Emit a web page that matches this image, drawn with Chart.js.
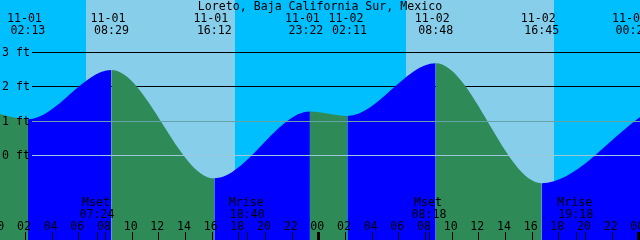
<!DOCTYPE html>
<html>
<head>
<meta charset="utf-8">
<script src="https://cdn.jsdelivr.net/npm/chart.js@4/dist/chart.umd.min.js"></script>
<style>
  html, body { margin: 0; padding: 0; background: #fff; }
  canvas { display: block; }
</style>
</head>
<body>
<canvas id="tide-chart" width="640" height="240"></canvas>
<script>
const title = 'Loreto, Baja California Sur, Mexico';

// high / low tides (first and last ones fall just outside the window)
const tideTimes = ['10-31 23:00', '11-01 02:13', '11-01 08:29', '11-01 16:12', '11-01 23:22',
                   '11-02 02:11', '11-02 08:48', '11-02 16:45', '11-03 00:25'];
const tideHeights = [1.30, 1.04, 2.47, -0.68, 1.26, 1.13, 2.66, -0.82, 1.18];

const sunrises = ['11-01 06:35', '11-02 06:35'];
const sunsets = ['11-01 17:45', '11-02 17:41'];

const moonKinds = ['Mset', 'Mrise', 'Mset', 'Mrise'];
const moonTimes = ['11-01 07:24', '11-01 18:40', '11-02 08:18', '11-02 19:18'];

const depthLevels = [0, 1, 2, 3];
const depthLabels = ['0 ft', '1 ft', '2 ft', '3 ft'];
const hourTicks = [0, 2, 4, 6, 8, 10, 12, 14, 16, 18, 20, 22, 24, 26, 28, 30, 32, 34, 36, 38, 40, 42, 44, 46, 48];

const dayIndex = {'10-31': -1, '11-01': 0, '11-02': 1, '11-03': 2};
const toHours = s => {
  const [d, t] = s.split(' ');
  const [h, m] = t.split(':').map(Number);
  return dayIndex[d] * 24 + h + m / 60;
};

const FLOOD = '#0000ff';
const EBB = '#2e8b57';
const DAY = '#87ceeb';
const NIGHT = '#00bfff';
const FONT = '11.6px "DejaVu Sans Mono", monospace';

const points = tideTimes.map((t, i) => ({x: toHours(t), y: tideHeights[i]}));

const decor = {
  id: 'decor',
  beforeDatasetsDraw(chart) {
    const {ctx, chartArea: a, scales: {x, y}} = chart;
    ctx.save();
    ctx.fillStyle = NIGHT;
    ctx.fillRect(a.left, a.top, a.right - a.left, a.bottom - a.top);
    ctx.fillStyle = DAY;
    sunrises.forEach((s, i) => {
      const x0 = x.getPixelForValue(toHours(s));
      const x1 = x.getPixelForValue(toHours(sunsets[i]));
      ctx.fillRect(Math.round(x0), a.top, Math.round(x1) - Math.round(x0), a.bottom - a.top);
    });
    // upper depth lines go under the water
    ctx.fillStyle = '#000';
    [2, 3].forEach(v => {
      ctx.fillRect(32, Math.round(y.getPixelForValue(v)), a.right - 32, 1);
    });
    ctx.restore();
  },
  afterDatasetsDraw(chart) {
    const {ctx, chartArea: a, scales: {x, y}} = chart;
    ctx.save();
    ctx.fillStyle = '#9cc8dc';
    ctx.fillRect(32, Math.round(y.getPixelForValue(0)), a.right - 32, 1);
    ctx.fillStyle = '#64a4a8';
    ctx.fillRect(32, Math.round(y.getPixelForValue(1)), a.right - 32, 1);

    ctx.font = FONT;
    ctx.fillStyle = '#000';
    ctx.textAlign = 'left';
    depthLevels.forEach((v, i) => {
      ctx.fillText(depthLabels[i], 2, Math.round(y.getPixelForValue(v)) + 4);
    });

    ctx.textAlign = 'center';
    ctx.fillText(title, 320, 10);

    const nudge = [0, 0, 0, 0, -4, 2, 0, 0, -11];
    tideTimes.forEach((t, i) => {
      const h = toHours(t);
      if (h < x.min || h > x.max + 1) return;
      const px = x.getPixelForValue(h) + nudge[i];
      const [d, hm] = t.split(' ');
      ctx.fillText(d, px - 3.5, 22);
      ctx.fillText(hm, px, 34);
    });

    moonTimes.forEach((t, i) => {
      const px = x.getPixelForValue(toHours(t));
      ctx.fillText(moonKinds[i], px - 1, 206);
      ctx.fillText(t.split(' ')[1], px, 218);
      ctx.fillRect(Math.round(px), 232, 1, 8);
    });

    hourTicks.forEach(h => {
      const px = x.getPixelForValue(h);
      ctx.fillText(String(h % 24).padStart(2, '0'), px - 1, 229.5);
      if (h % 24 === 0) ctx.fillRect(Math.round(px) - 1, 232, 3, 8);
      else ctx.fillRect(Math.round(px), 232, 1, 8);
    });
    ctx.restore();
  }
};

new Chart(document.getElementById('tide-chart'), {
  type: 'line',
  data: {
    datasets: [{
      data: points,
      fill: 'start',
      backgroundColor: EBB,
      borderColor: 'transparent',
      borderWidth: 0,
      pointRadius: 0,
      cubicInterpolationMode: 'monotone',
      segment: {
        backgroundColor: c => c.p1.parsed.y > c.p0.parsed.y ? FLOOD : EBB
      }
    }]
  },
  options: {
    responsive: false,
    animation: false,
    devicePixelRatio: 1,
    layout: {padding: 0},
    scales: {
      x: {type: 'linear', min: 0.125, max: 48.125, display: false},
      y: {min: -2.47, max: 4.5, display: false}
    },
    plugins: {
      legend: {display: false},
      tooltip: {enabled: false}
    }
  },
  plugins: [decor]
});
</script>
</body>
</html>
